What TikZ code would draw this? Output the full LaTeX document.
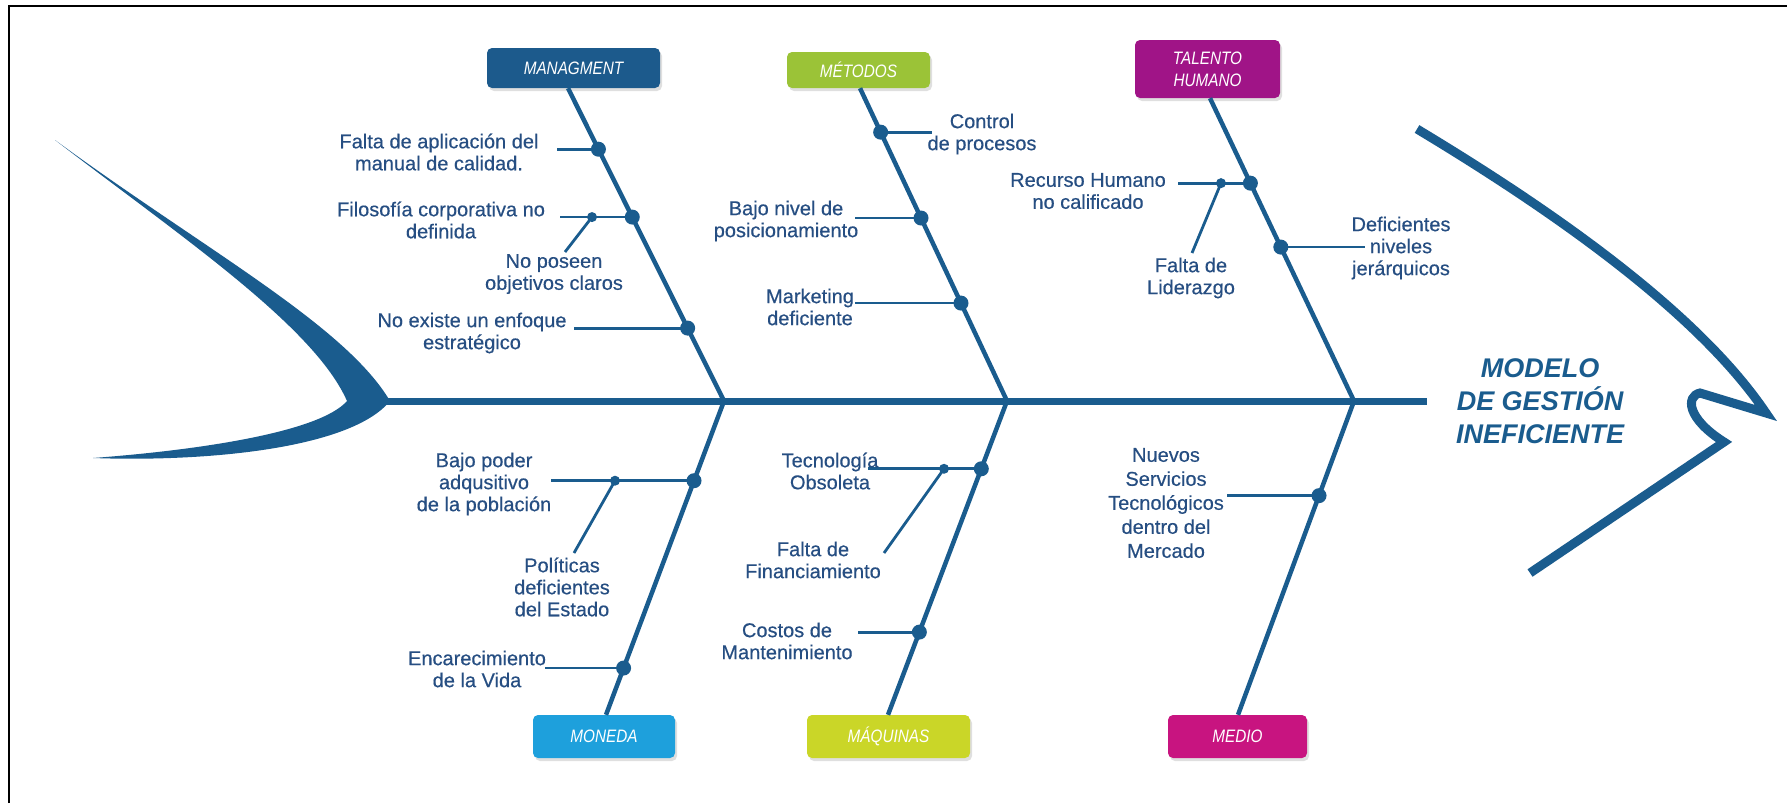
\documentclass[tikz,border=0pt]{standalone}
\usepackage{fontspec}
\setmainfont{Liberation Sans}
\newfontfamily\boxfont{Liberation Sans}[FakeStretch=0.85]
\newfontfamily\lblfont{Liberation Sans}[FakeBold=0.4]
\usetikzlibrary{shadows,calc}
\definecolor{bone}{RGB}{26,92,142}
\definecolor{txt}{RGB}{38,78,130}
\definecolor{cMan}{RGB}{28,90,140}
\definecolor{cMet}{RGB}{155,195,55}
\definecolor{cTal}{RGB}{160,20,135}
\definecolor{cMon}{RGB}{30,160,220}
\definecolor{cMaq}{RGB}{202,214,40}
\definecolor{cMed}{RGB}{200,20,128}
\tikzset{
  cat/.style={rectangle, rounded corners=5pt, text=white, align=center,
    font=\boxfont\itshape\fontsize{18}{22}\selectfont, inner sep=0pt,
    drop shadow={opacity=0.25, shadow xshift=2pt, shadow yshift=-3pt}},
  lbl/.style={text=txt, align=center, font=\lblfont\fontsize{20}{22}\selectfont, inner sep=0pt},
  bonel/.style={draw=bone, line width=4.5pt},
  branch/.style={draw=bone, line width=2.8pt},
}
\newcommand{\bdot}[1]{\fill[bone] (#1) circle (7.5pt);}
\newcommand{\sdot}[1]{\fill[bone] (#1) circle (5pt);}
\begin{document}
\begin{tikzpicture}[x=1pt,y=-1pt]
\useasboundingbox (0,0) rectangle (1787,803);
\fill[white] (0,0) rectangle (1787,803);
% frame (left and top)
\draw[line width=2pt, black] (9,803) -- (9,6) -- (1787,6);

% category boxes
\node[cat, fill=cMan, minimum width=173pt, minimum height=40pt] (man) at (573.5,68) {MANAGMENT};
\node[cat, fill=cMet, minimum width=143pt, minimum height=36pt] (met) at (858.5,70) {MÉTODOS};
\node[cat, fill=cTal, minimum width=145pt, minimum height=58pt] (tal) at (1207.5,69) {TALENTO\\HUMANO};
\node[cat, fill=cMon, minimum width=142pt, minimum height=43pt] (mon) at (604,736.5) {MONEDA};
\node[cat, fill=cMaq, minimum width=163pt, minimum height=43pt] (maq) at (888.5,736.5) {MÁQUINAS};
\node[cat, fill=cMed, minimum width=139pt, minimum height=43pt] (med) at (1237.5,736.5) {MEDIO};

% tail
\fill[bone] (55,140) .. controls (180,236) and (314,326) .. (347,401)
  .. controls (320,432) and (200,450) .. (93,458)
  .. controls (200,462) and (350,450) .. (390,401)
  .. controls (345,325) and (205,250) .. (55,140) -- cycle;

% spine
\coordinate (sp0) at (380,401);
\coordinate (sp1) at (1427,401);
\draw[draw=bone, line width=7pt] (sp0) -- (sp1);

% junctions
\coordinate (j1) at (724,401);
\coordinate (j2) at (1007,401);
\coordinate (j3) at (1354,401);

% bone ends at boxes
\coordinate (m0) at ($(man.south)+(-5.5,0)$);
\coordinate (t0) at ($(met.south)+(1.5,0)$);
\coordinate (h0) at ($(tal.south)+(2.5,0)$);
\coordinate (n0) at ($(mon.north)+(2,0)$);
\coordinate (q0) at ($(maq.north)+(-0.5,0)$);
\coordinate (d0) at ($(med.north)+(0.5,0)$);

\draw[bonel] (m0) -- (j1);
\draw[bonel] (t0) -- (j2);
\draw[bonel] (h0) -- (j3);
\draw[bonel] (j1) -- (n0);
\draw[bonel] (j2) -- (q0);
\draw[bonel] (j3) -- (d0);

% points on bones
\path (m0) -- (j1) coordinate[pos=.195] (a1) coordinate[pos=.412] (a2) coordinate[pos=.767] (a3);
\path (t0) -- (j2) coordinate[pos=.1406] (b1) coordinate[pos=.415] (b2) coordinate[pos=.687] (b3);
\path (h0) -- (j3) coordinate[pos=.2805] (c1) coordinate[pos=.4917] (c2);
\path (j1) -- (n0) coordinate[pos=.254] (d1) coordinate[pos=.851] (d2);
\path (j2) -- (q0) coordinate[pos=.216] (e1) coordinate[pos=.7365] (e2);
\path (j3) -- (d0) coordinate[pos=.3016] (f1);

% free ends and small dots
\coordinate (a1e) at (a1 -| 557,0);
\coordinate (a2e) at (a2 -| 560,0);
\coordinate (a2s) at (a2 -| 592,0);
\coordinate (a2f) at (565,252);
\coordinate (a3e) at (a3 -| 574,0);
\coordinate (b1e) at (b1 -| 932,0);
\coordinate (b2e) at (b2 -| 855,0);
\coordinate (b3e) at (b3 -| 855,0);
\coordinate (c1e) at (c1 -| 1178,0);
\coordinate (c1s) at (c1 -| 1221,0);
\coordinate (c1f) at (1192,253);
\coordinate (c2e) at (c2 -| 1365,0);
\coordinate (d1e) at (d1 -| 551,0);
\coordinate (d1s) at (d1 -| 615,0);
\coordinate (d1f) at (574,553);
\coordinate (d2e) at (d2 -| 545,0);
\coordinate (e1e) at (e1 -| 868,0);
\coordinate (e1s) at (e1 -| 944,0);
\coordinate (e1f) at (884,553);
\coordinate (e2e) at (e2 -| 858,0);
\coordinate (f1e) at (f1 -| 1227,0);

% branches
\draw[branch] (a1e) -- (a1);
\draw[branch] (a2e) -- (a2);
\draw[branch] (a2s) -- (a2f);
\draw[branch] (a3e) -- (a3);
\draw[branch] (b1) -- (b1e);
\draw[branch] (b2e) -- (b2);
\draw[branch] (b3e) -- (b3);
\draw[branch] (c1e) -- (c1);
\draw[branch] (c1s) -- (c1f);
\draw[branch] (c2) -- (c2e);
\draw[branch] (d1e) -- (d1);
\draw[branch] (d1s) -- (d1f);
\draw[branch] (d2e) -- (d2);
\draw[branch] (e1e) -- (e1);
\draw[branch] (e1s) -- (e1f);
\draw[branch] (e2e) -- (e2);
\draw[branch] (f1e) -- (f1);

% dots
\bdot{a1}\bdot{a2}\bdot{a3}
\bdot{b1}\bdot{b2}\bdot{b3}
\bdot{c1}\bdot{c2}
\bdot{d1}\bdot{d2}
\bdot{e1}\bdot{e2}
\bdot{f1}
\sdot{a2s}\sdot{c1s}\sdot{d1s}\sdot{e1s}

% head
\draw[draw=bone, line width=9pt, line join=miter, line cap=butt]
  (1417,129) .. controls (1560,215) and (1700,315) .. (1766,413)
  -- (1700,393) .. controls (1686,396) and (1686,418) .. (1724,442) -- (1530,573);

% labels
\node[lbl] (la1) at (439,152) {Falta de aplicación del\\manual de calidad.};
\node[lbl] (la2) at (441,220) {Filosofía corporativa no\\definida};
\node[lbl] (la2s) at (554,274) {No poseen\\objetivos claros};
\node[lbl] (la3) at (472,333) {No existe un enfoque\\estratégico};
\node[lbl] (lb1) at (982,134) {Control\\de procesos};
\node[lbl] (lb2) at (786,221) {Bajo nivel de\\posicionamiento};
\node[lbl] (lb3) at (810,307) {Marketing\\deficiente};
\node[lbl] (lc1) at (1088,191) {Recurso Humano\\no calificado};
\node[lbl] (lc1s) at (1191,278) {Falta de\\Liderazgo};
\node[lbl] (lc2) at (1401,248) {Deficientes\\niveles\\jerárquicos};
\node[lbl] (ld1) at (484,484) {Bajo poder\\adqusitivo\\de la población};
\node[lbl] (ld1s) at (562,587) {Políticas\\deficientes\\del Estado};
\node[lbl] (ld2) at (477,669) {Encarecimiento\\de la Vida};
\node[lbl] (le1) at (830,471) {Tecnología\\Obsoleta};
\node[lbl] (le1s) at (813,560) {Falta de\\Financiamiento};
\node[lbl] (le2) at (787,641) {Costos de\\Mantenimiento};
\node[lbl, font=\lblfont\fontsize{20}{24}\selectfont] (lf1) at (1166,503) {Nuevos\\Servicios\\Tecnológicos\\dentro del\\Mercado};
\node[text=bone, align=center, inner sep=0pt, font=\bfseries\itshape\fontsize{27}{33}\selectfont] (head) at (1540,401) {MODELO\\DE GESTIÓN\\INEFICIENTE};
\end{tikzpicture}
\end{document}
